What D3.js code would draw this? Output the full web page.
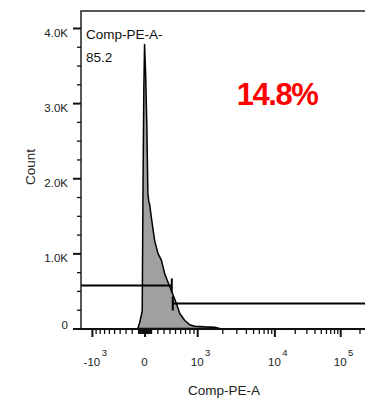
<!DOCTYPE html>
<html>
<head>
<meta charset="utf-8">
<script src="https://cdnjs.cloudflare.com/ajax/libs/d3/7.8.5/d3.min.js"></script>
<style>
  body { margin: 0; background: #fff; }
  text { font-family: "Liberation Sans", Arial, sans-serif; }
</style>
</head>
<body>
<svg id="chart" width="365" height="403"></svg>
<script>
// histogram of Comp-PE-A (bin value, count)
var histValues = [-105, -78, -51, -36, -23, -11, 0, 16, 36, 51, 67, 78, 105, 157, 209, 264, 319, 404, 463, 527, 591, 695, 808, 933, 1233, 1621, 1862];
var histCounts = [0, 70, 173, 240, 2000, 3200, 3780, 3400, 2680, 1800, 1680, 1660, 1480, 1170, 1000, 910, 730, 560, 450, 330, 200, 107, 50, 30, 22, 18, 0];

var yMajor = [0, 1000, 2000, 3000, 4000];
var yLabels = ["0", "1.0K", "2.0K", "3.0K", "4.0K"];

var xMajor = [-1000, 0, 1000, 10000, 100000];
var xLabelBase = ["-10", "0", "10", "10", "10"];
var xLabelExp = ["3", "", "3", "4", "5"];

var gateCut = 450;
var gateLevels = [573, 333];   // left gate, right gate

var paramName = "Comp-PE-A";
var gateName = "Comp-PE-A-";
var gatePct = "85.2";
var bigPct = "14.8%";

// logicle (biexponential) transform, T / W / M / A as in FlowJo
function makeLogicle(T, W, M, A) {
    var w = W / (M + A), x2 = A / (M + A), x1 = x2 + w, x0 = x2 + 2 * w;
    var b = (M + A) * Math.LN10;
    var lo = 1e-6, hi = b, d;
    for (var i = 0; i < 80; i++) {
        d = (lo + hi) / 2;
        if (2 * (Math.log(d) - Math.log(b)) + w * (b + d) < 0) lo = d; else hi = d;
    }
    var ca = Math.exp(x0 * (b + d));
    var mfa = Math.exp(b * x1) - ca / Math.exp(d * x1);
    var a = T / ((Math.exp(b) - mfa) - ca / Math.exp(d));
    var c = ca * a, f = -mfa * a;
    function S(y) {
        var neg = y < x1;
        if (neg) y = 2 * x1 - y;
        var v = a * Math.exp(b * y) - c * Math.exp(-d * y) + f;
        return neg ? -v : v;
    }
    return function(v) {
        var l = -1, h = 1.5;
        for (var k = 0; k < 60; k++) {
            var m = (l + h) / 2;
            if (S(m) < v) l = m; else h = m;
        }
        return (l + h) / 2;
    };
}
var logicle = makeLogicle(262144, 1, 4.5, 0);

var svg = d3.select("#chart");

var xDisp = d3.scaleLinear().domain([0, 1]).range([81, 367]);
function x(v) { return xDisp(logicle(v)); }

var y = d3.scaleLinear().domain([0, 4226]).range([328.5, 11]);

var hist = histValues.map(function(v, i) { return { v: v, n: histCounts[i] }; });

var area = d3.area()
    .x(function(d) { return x(d.v); })
    .y0(y(0))
    .y1(function(d) { return y(d.n); });

svg.append("path")
    .datum(hist)
    .attr("d", area)
    .attr("fill", "#a0a0a0")
    .attr("stroke", "#000")
    .attr("stroke-width", 1.5)
    .attr("stroke-linejoin", "round");

// gates
var gx = x(gateCut);
var g1 = y(gateLevels[0]), g2 = y(gateLevels[1]);
var gates = svg.append("g").attr("stroke", "#000").attr("stroke-width", 2);
gates.append("line").attr("x1", 81).attr("x2", gx - 0.5).attr("y1", g1).attr("y2", g1);
gates.append("line").attr("x1", gx - 0.5).attr("x2", gx - 0.5).attr("y1", g1 - 7).attr("y2", g1 + 7);
gates.append("line").attr("x1", gx + 0.5).attr("x2", 365).attr("y1", g2).attr("y2", g2);
gates.append("line").attr("x1", gx + 0.5).attr("x2", gx + 0.5).attr("y1", g2 - 7).attr("y2", g2 + 7);

// frame
svg.append("path")
    .attr("d", "M365,11H81V329")
    .attr("fill", "none")
    .attr("stroke", "#222")
    .attr("stroke-width", 1.5);

// x axis
var xAxisG = svg.append("g").attr("transform", "translate(0,329)");

var xMinor = [];
for (var k = 1; k <= 9; k++) {
    xMinor.push(-k * 100, -k * 10, k * 10, k * 100);
    if (k > 1) xMinor.push(k * 1000, k * 10000);
}
xMinor.push(200000);

xAxisG.append("g")
    .call(d3.axisBottom(xDisp).tickValues(xMinor.map(logicle)).tickSize(5).tickFormat(""))
    .call(function(g) { g.select(".domain").remove(); })
    .selectAll("line").attr("stroke", "#111").attr("stroke-width", 1.3);

xAxisG.append("g")
    .call(d3.axisBottom(xDisp).tickValues(xMajor.map(logicle)).tickSize(8).tickFormat(""))
    .call(function(g) { g.select(".domain").remove(); })
    .selectAll("line").attr("stroke", "#111").attr("stroke-width", 2);

xAxisG.append("line")
    .attr("x1", 81).attr("x2", 365)
    .attr("stroke", "#111").attr("stroke-width", 2);

xMajor.forEach(function(v, i) {
    var px = x(v);
    var t = svg.append("text")
        .attr("x", px).attr("y", 365.5)
        .attr("text-anchor", "middle")
        .attr("font-size", 11.5)
        .attr("fill", "#222")
        .text(xLabelBase[i]);
    if (xLabelExp[i]) {
        var w = t.node().getComputedTextLength();
        svg.append("text")
            .attr("x", px + w / 2 + 1.5).attr("y", 355.5)
            .attr("font-size", 9.5)
            .attr("fill", "#222")
            .text(xLabelExp[i]);
    }
});

// y axis
var yAxisG = svg.append("g").attr("transform", "translate(81,0)");

yAxisG.append("g")
    .call(d3.axisLeft(y).tickValues(d3.range(250, 4226, 250).filter(function(d) { return d % 1000; })).tickSize(4).tickFormat(""))
    .call(function(g) { g.select(".domain").remove(); })
    .selectAll("line").attr("stroke", "#111").attr("stroke-width", 1.3);

yAxisG.append("g")
    .call(d3.axisLeft(y).tickValues(yMajor).tickSize(8).tickPadding(5)
        .tickFormat(function(d, i) { return yLabels[i]; }))
    .call(function(g) { g.select(".domain").remove(); })
    .call(function(g) {
        g.selectAll("line").attr("stroke", "#111").attr("stroke-width", 2);
        g.selectAll("text")
            .attr("font-size", 11.5)
            .attr("font-family", "Liberation Sans, Arial, sans-serif")
            .attr("fill", "#222")
            .attr("dy", function(d) { return d === 0 ? "0em" : "0.75em"; });
    });

// titles
svg.append("text")
    .attr("x", 224).attr("y", 394.5)
    .attr("text-anchor", "middle")
    .attr("font-size", 13.5)
    .attr("fill", "#222")
    .text(paramName);

svg.append("text")
    .attr("transform", "translate(35,167) rotate(-90)")
    .attr("text-anchor", "middle")
    .attr("font-size", 13.5)
    .attr("fill", "#222")
    .text("Count");

// gate annotation
svg.append("text")
    .attr("x", 86).attr("y", 38.5)
    .attr("font-size", 13.5)
    .attr("fill", "#111")
    .text(gateName);

svg.append("text")
    .attr("x", 86).attr("y", 61.5)
    .attr("font-size", 13.5)
    .attr("fill", "#111")
    .text(gatePct);

svg.append("text")
    .attr("x", 277).attr("y", 105)
    .attr("text-anchor", "middle")
    .attr("font-size", 31)
    .attr("font-weight", "bold")
    .attr("letter-spacing", -1.5)
    .attr("fill", "#ff0000")
    .text(bigPct);
</script>
</body>
</html>
